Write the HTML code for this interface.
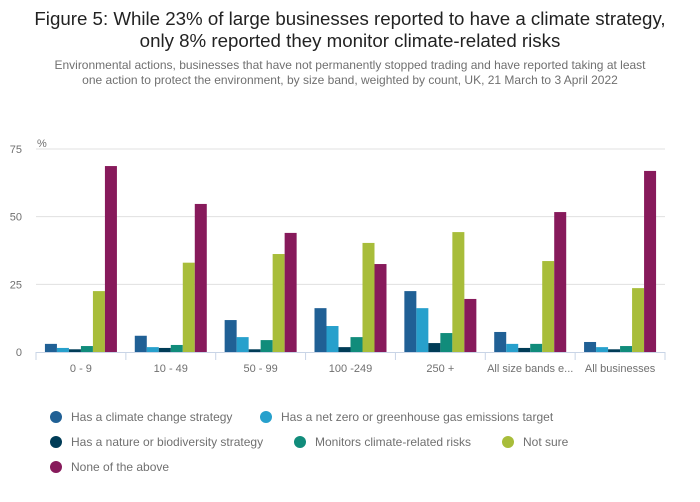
<!DOCTYPE html>
<html><head><meta charset="utf-8"><style>
body{margin:0;background:#fff;font-family:"Liberation Sans",sans-serif;}
.wrap{position:relative;width:700px;height:502px;overflow:hidden}
h1{position:absolute;top:8px;left:0;width:700px;margin:0;text-align:center;font-size:18.7px;font-weight:normal;color:#222;line-height:22px}
.sub{position:absolute;top:58px;left:42px;width:616px;text-align:center;font-size:12px;color:#707070;line-height:15px}
.leg{position:absolute;font-size:12px;color:#707070;display:flex;align-items:center}
.leg i{display:inline-block;width:12px;height:12px;border-radius:50%;margin-right:9px}
</style></head><body>
<div class="wrap">
<h1>Figure 5: While 23% of large businesses reported to have a climate strategy,<br>only 8% reported they monitor climate-related risks</h1>
<div class="sub">Environmental actions, businesses that have not permanently stopped trading and have reported taking at least<br>one action to protect the environment, by size band, weighted by count, UK, 21 March to 3 April 2022</div>
<svg id="c" width="700" height="400" style="position:absolute;top:0;left:0"></svg>
<div class="leg" style="left:50px;top:410px"><i style="background:#206095"></i>Has a climate change strategy</div>
<div class="leg" style="left:260px;top:410px"><i style="background:#27a0cc"></i>Has a net zero or greenhouse gas emissions target</div>
<div class="leg" style="left:50px;top:435px"><i style="background:#003c57"></i>Has a nature or biodiversity strategy</div>
<div class="leg" style="left:294px;top:435px"><i style="background:#118c7b"></i>Monitors climate-related risks</div>
<div class="leg" style="left:502px;top:435px"><i style="background:#a8bd3a"></i>Not sure</div>
<div class="leg" style="left:50px;top:460px"><i style="background:#871a5b"></i>None of the above</div>
</div>
<script>
const categories=["0 - 9","10 - 49","50 - 99","100 -249","250 +","All size bands e...","All businesses"];
const strategy=[3,6,11.8,16.2,22.5,7.4,3.7];
const netZero=[1.5,1.8,5.5,9.6,16.2,3,1.8];
const nature=[1,1.5,1,1.8,3.3,1.5,1];
const risks=[2.2,2.6,4.4,5.5,7,3,2.2];
const notSure=[22.5,33,36.2,40.3,44.3,33.6,23.6];
const none=[68.7,54.7,44,32.5,19.6,51.7,66.9];
const yTicks=[0,25,50,75];
const series=[strategy,netZero,nature,risks,notSure,none];
const colors=["#206095","#27a0cc","#003c57","#118c7b","#a8bd3a","#871a5b"];
const NS="http://www.w3.org/2000/svg",svg=document.getElementById('c');
const x0=36,x1=665,y0=352,yTop=149,yMax=75;
const y=v=>y0-(v/yMax)*(y0-yTop);
const gw=(x1-x0)/categories.length,bw=12;
function mk(t,a){const e=document.createElementNS(NS,t);for(const k in a)e.setAttribute(k,a[k]);svg.appendChild(e);return e;}
yTicks.forEach(t=>{
 if(t>0){const l=mk('line',{x1:x0,x2:x1,y1:y(t),y2:y(t),stroke:'#e0e0e0'});
 
 }
 const tx=mk('text',{x:22,y:y(t)+4,'font-size':11,fill:'#707070','text-anchor':'end','font-family':'Liberation Sans'});
 tx.textContent=t;
 
 
});
const pc=mk('text',{x:37,y:147,'font-size':11,fill:'#707070','font-family':'Liberation Sans'});pc.textContent='%';


categories.forEach((c,i)=>{
 const gx=x0+i*gw,start=gx+(gw-bw*series.length)/2;
 series.forEach((s,j)=>{
  const r=mk('rect',{x:start+j*bw,y:y(s[i]),width:bw,height:y0-y(s[i]),fill:colors[j]});
  
  
 });
 const t=mk('text',{x:gx+gw/2,y:372,'font-size':11,fill:'#707070','text-anchor':'middle','font-family':'Liberation Sans'});
 t.textContent=c;
 
 
});
for(let i=0;i<=categories.length;i++){const gx=x0+i*gw;const l=mk('line',{x1:gx,x2:gx,y1:y0,y2:y0+8,stroke:'#c8d4e6'});
 
 }
const ax=mk('line',{x1:x0,x2:x1,y1:y0+0.5,y2:y0+0.5,stroke:'#c8d4e6'});


</script>
</body></html>
